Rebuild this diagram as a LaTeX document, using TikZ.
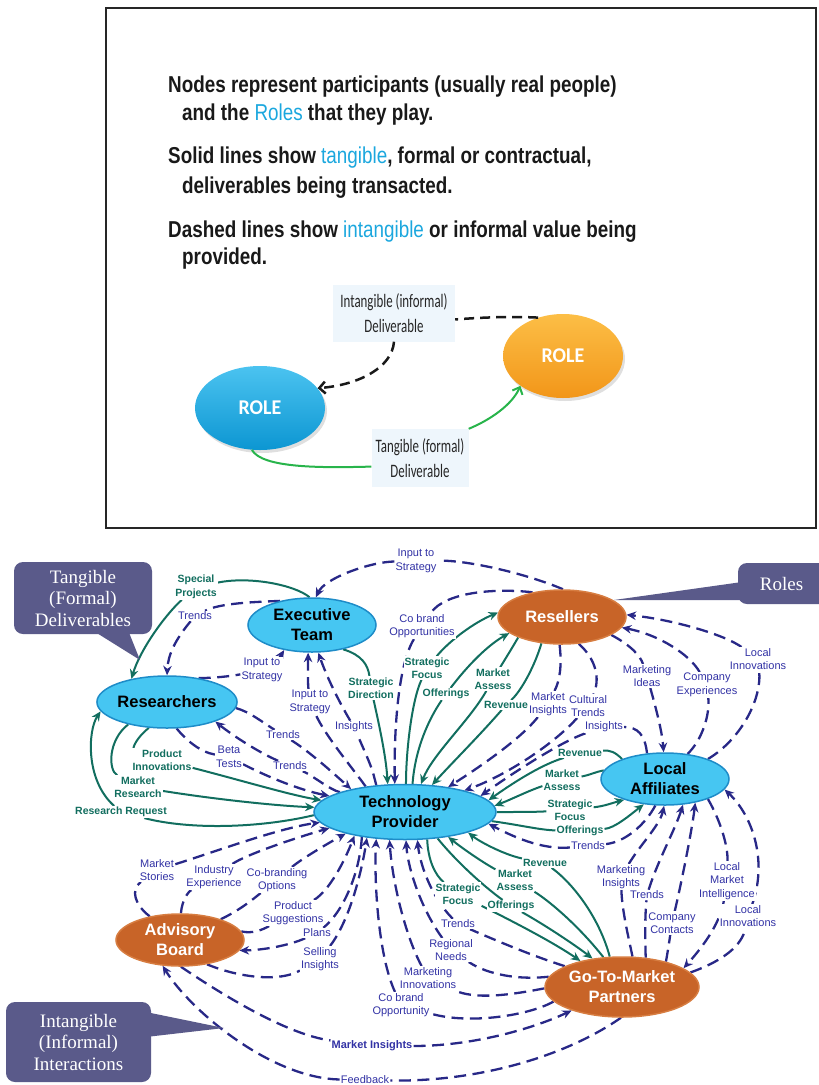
\documentclass[tikz,border=0pt]{standalone}
\usepackage{fontspec}
\setmainfont{Liberation Sans}
\newfontfamily\headfont[FakeStretch=0.82]{Liberation Sans}
\newfontfamily\boxfont[FakeStretch=0.68]{Carlito}
\newfontfamily\rolefont[FakeStretch=0.95]{Carlito}
\newfontfamily\calloutfont{Liberation Serif}
\usetikzlibrary{shapes.geometric,arrows.meta,shadows}
\pgfdeclarelayer{edgelayer}
\pgfsetlayers{edgelayer,main}

\definecolor{navy}{RGB}{40,40,135}
\definecolor{lblue}{RGB}{50,50,165}
\definecolor{vgreen}{RGB}{18,110,95}
\definecolor{nodeblue}{RGB}{70,198,242}
\definecolor{nodeblueedge}{RGB}{30,140,200}
\definecolor{nodeorange}{RGB}{200,100,40}
\definecolor{nodeorangeedge}{RGB}{215,125,65}
\definecolor{callfill}{RGB}{90,90,138}
\definecolor{hl}{RGB}{27,167,222}
\definecolor{legtext}{RGB}{25,25,25}
\definecolor{boxbg}{RGB}{238,246,252}
\definecolor{leggreen}{RGB}{40,180,75}

\begin{document}
\begin{tikzpicture}[x=1pt,y=-1pt,
  dl/.style={draw=navy, line width=2.3pt, dash pattern=on 12pt off 6.5pt},
  dla/.style={dl, -{Stealth[length=9.5pt,width=8.5pt]}},
  gl/.style={draw=vgreen, line width=2pt},
  gla/.style={gl, -{Stealth[length=9.5pt,width=8.5pt]}},
  bl/.style={font=\fontsize{11}{13.5}\selectfont, text=lblue, align=center, inner sep=1pt, fill=white},
  glab/.style={font=\bfseries\fontsize{10.5}{13.5}\selectfont, text=vgreen, align=center, inner sep=1pt, fill=white},
  bnode/.style={ellipse, draw=nodeblueedge, fill=nodeblue, line width=1.5pt, inner sep=0pt,
    font=\bfseries\fontsize{16.5}{20}\selectfont, align=center, text=black},
  onode/.style={bnode, draw=nodeorangeedge, fill=nodeorange, text=white},
  hd/.style={font=\headfont\bfseries\fontsize{23}{27}\selectfont, text=legtext, inner sep=0pt, anchor=base west},
  legbox/.style={fill=boxbg, font=\boxfont\fontsize{19}{25}\selectfont, text=black!85, align=center, inner sep=0pt},
  legrole/.style={ellipse, inner sep=0pt, font=\rolefont\bfseries\fontsize{21}{24}\selectfont, text=white,
    drop shadow={opacity=0.25, shadow xshift=2pt, shadow yshift=-3pt}},
  legd/.style={draw=black!90, line width=2.5pt, dash pattern=on 10pt off 6pt},
  leggl/.style={draw=leggreen, line width=2pt},
  callbox/.style={rectangle, rounded corners=9pt, fill=callfill, text=white,
    font=\calloutfont\fontsize{19}{21.5}\selectfont, align=center, inner sep=0pt}
]
\useasboundingbox (0,0) rectangle (819,1085);

% ---------------- key panel ----------------
\draw[line width=2pt, draw=black!85] (106,8) rectangle (816,528);
\node[hd] (lt1) at (168,92) {Nodes represent participants (usually real people)};
\node[hd] (lt2) at (182,120) {and the \textcolor{hl}{\mdseries Roles} that they play.};
\node[hd] (lt3) at (168,163) {Solid lines show \textcolor{hl}{\mdseries tangible}, formal or contractual,};
\node[hd] (lt4) at (182,193) {deliverables being transacted.};
\node[hd] (lt5) at (168,237) {Dashed lines show \textcolor{hl}{\mdseries intangible} or informal value being};
\node[hd] (lt6) at (182,264) {provided.};

\node[legrole, top color={rgb,255:red,75;green,195;blue,240}, bottom color={rgb,255:red,12;green,150;blue,210},
  minimum width=130pt, minimum height=84pt] (RB) at (260,408) {ROLE};
\node[legrole, top color={rgb,255:red,252;green,190;blue,70}, bottom color={rgb,255:red,242;green,150;blue,25},
  minimum width=120pt, minimum height=84pt] (RO) at (563,356) {ROLE};
\node[legbox, minimum width=122pt, minimum height=57pt] (B1) at (394,313) {Intangible (informal)\\Deliverable};
\node[legbox, minimum width=97pt, minimum height=58pt] (B2) at (420,458) {Tangible (formal)\\Deliverable};

\draw[legd] (RO.123) .. controls (505,316) and (475,318) .. (B1.-6);
\draw[legd, -{Straight Barb[length=6pt,width=12pt]}] (B1.south) .. controls (392,368) and (358,385) .. (RB.19);
\draw[leggl] (RB.259) .. controls (262,468) and (320,468) .. (B2.190);
\draw[leggl, -{Straight Barb[length=6pt,width=11pt]}] (B2.north east) .. controls (490,420) and (512,405) .. (RO.215);

% ---------------- callouts ----------------
\fill[callfill] (92,630) -- (140,660) -- (128,630) -- cycle;
\node[callbox, minimum width=138pt, minimum height=72pt] (cT) at (83,598) {Tangible\\(Formal)\\Deliverables};
\fill[callfill] (742,582) -- (614,600) -- (742,600) -- cycle;
\node[callbox, minimum width=95pt, minimum height=41pt] (cR) at (785.5,583.5) {\hspace*{-8pt}Roles};
\fill[callfill] (146,1012) -- (224,1028) -- (146,1037) -- cycle;
\node[callbox, minimum width=145pt, minimum height=80pt] (cI) at (78.5,1042) {Intangible\\(Informal)\\Interactions};

% ---------------- roles ----------------
\node[bnode, minimum width=128pt, minimum height=54pt] (ET) at (312,625) {Executive\\Team};
\node[onode, minimum width=128pt, minimum height=54pt] (RS) at (562,617) {Resellers};
\node[bnode, minimum width=128pt, minimum height=52pt] (RE) at (167,702) {Researchers};
\node[bnode, minimum width=182pt, minimum height=55pt] (TP) at (405,812) {Technology\\Provider};
\node[bnode, minimum width=128pt, minimum height=52pt] (LA) at (665,779) {Local\\Affiliates};
\node[onode, minimum width=128pt, minimum height=52pt] (AB) at (180,940) {Advisory\\Board};
\node[onode, minimum width=154pt, minimum height=60pt] (GM) at (622,987) {Go-To-Market\\Partners};

% ---------------- deliverable labels ----------------
\node[glab] (L3) at (196,587) {Special\\Projects};
\node[bl] (L4) at (195,616) {Trends};
\node[bl] (L1) at (416,561) {Input to\\Strategy};
\node[bl] (L2) at (422,626) {Co brand\\Opportunities};
\node[bl] (L5) at (262,670) {Input to\\Strategy};
\node[bl] (L6) at (310,702) {Input to\\Strategy};
\node[bl] (L7) at (354,727) {Insights};
\node[glab] (L8) at (371,688) {Strategic\\Direction};
\node[glab] (L9) at (427,668) {Strategic\\Focus};
\node[glab] (L10) at (446,694) {Offerings};
\node[glab] (L11) at (493,679) {Market\\Assess};
\node[glab] (L12) at (506,705) {Revenue};
\node[bl] (L13) at (548,704) {Market\\Insights};
\node[bl] (L14) at (588,706) {Cultural\\Trends};
\node[bl] (L15) at (604,727) {Insights};
\node[bl] (L16) at (647,676) {Marketing\\Ideas};
\node[bl] (L17) at (707,685) {Company\\Experiences};
\node[bl] (L18) at (758,659) {Local\\Innovations};
\node[bl] (L19) at (283,735) {Trends};
\node[bl] (L20) at (290,766) {Trends};
\node[bl] (L21) at (229,757) {Beta\\Tests};
\node[glab] (L22) at (162,760) {Product\\Innovations};
\node[glab] (L23) at (138,787) {Market\\Research};
\node[glab] (L24) at (121,812) {Research Request};
\node[glab] (L25) at (580,753) {Revenue};
\node[glab] (L26) at (562,780) {Market\\Assess};
\node[glab] (L27) at (570,810) {Strategic\\Focus};
\node[glab] (L28) at (580,831) {Offerings};
\node[bl] (L29) at (588,846) {Trends};
\node[bl] (L30) at (157,870) {Market\\Stories};
\node[bl] (L31) at (214,877) {Industry\\Experience};
\node[bl] (L32) at (277,880) {Co-branding\\Options};
\node[bl] (L33) at (293,913) {Product\\Suggestions};
\node[bl] (L34) at (317,933) {Plans};
\node[bl] (L35) at (320,959) {Selling\\Insights};
\node[bl] (L36) at (401,1005) {Co brand\\Opportunity};
\node[bl] (L37) at (428,978) {Marketing\\Innovations};
\node[bl] (L38) at (451,950) {Regional\\Needs};
\node[bl] (L39) at (458,924) {Trends};
\node[glab] (L40) at (458,894) {Strategic\\Focus};
\node[glab] (L41) at (511,906) {Offerings};
\node[glab] (L42) at (515,880) {Market\\Assess};
\node[glab] (L43) at (545,863) {Revenue};
\node[bl] (L44) at (621,877) {Marketing\\Insights};
\node[bl] (L45) at (647,895) {Trends};
\node[bl] (L46) at (672,923) {Company\\Contacts};
\node[bl] (L47) at (727,881) {Local\\Market\\Intelligence};
\node[bl] (L48) at (748,916) {Local\\Innovations};
\node[bl, font=\bfseries\fontsize{11}{13.5}\selectfont] (L49) at (372,1046) {Market Insights};
\node[bl] (L50) at (365,1080) {Feedback};

% ---------------- connectors ----------------
\begin{pgfonlayer}{edgelayer}
% executive team, resellers
\draw[dl] (RS.88) .. controls (530,575) and (470,560) .. (L1);
\draw[dla] (L1) .. controls (370,562) and (325,578) .. (ET.82);
\draw[dl] (RS.140) .. controls (495,588) and (445,592) .. (L2);
\draw[dla] (L2) .. controls (398,665) and (394,730) .. (TP.110);
\draw[gl] (ET.95) .. controls (295,585) and (250,576) .. (L3);
\draw[gla] (L3) .. controls (165,615) and (140,650) .. (RE.147);
\draw[dl] (ET.143) .. controls (255,602) and (220,603) .. (L4);
\draw[dla] (L4) .. controls (175,640) and (168,655) .. (RE.90);
\draw[dl] (RE.37) .. controls (215,678) and (232,676) .. (L5);
\draw[dla] (L5) .. controls (278,660) .. (ET.222);
\draw[dl] (TP.147) .. controls (350,765) and (325,735) .. (L6);
\draw[dla] (L6) .. controls (308,685) .. (ET.262);
\draw[dl] (TP.137) .. controls (372,768) .. (L7);
\draw[dla] (L7) .. controls (338,700) and (326,675) .. (ET.283);
\draw[gl] (ET.322) .. controls (362,655) and (368,665) .. (L8);
\draw[gla] (L8) .. controls (378,720) and (386,755) .. (TP.122);
% technology provider and resellers
\draw[gl] (TP.88) .. controls (406,750) and (412,700) .. (L9);
\draw[gla] (L9) .. controls (450,640) and (475,622) .. (RS.176);
\draw[gl] (TP.75) .. controls (415,750) and (428,720) .. (L10);
\draw[gla] (L10) .. controls (468,665) and (488,645) .. (RS.197);
\draw[gl] (RS.205) .. controls (512,648) .. (L11);
\draw[gla] (L11) .. controls (470,720) and (432,755) .. (TP.60);
\draw[gl] (RS.232) .. controls (535,665) and (522,690) .. (L12);
\draw[gla] (L12) .. controls (480,735) and (450,765) .. (TP.45);
\draw[dl] (RS.265) .. controls (562,665) and (560,680) .. (L13);
\draw[dla] (L13) .. controls (520,740) and (475,770) .. (TP.30);
\draw[dl] (RS.302) .. controls (597,660) and (600,680) .. (L14);
\draw[dla] (L14) .. controls (550,748) and (500,778) .. (TP.20);
\draw[dl] (LA.125) .. controls (645,735) and (638,727) .. (L15);
\draw[dla] (L15) .. controls (560,742) and (510,775) .. (TP.12);
% resellers and local affiliates
\draw[dl] (RS.340) .. controls (630,645) and (640,655) .. (L16);
\draw[dla] (L16) .. controls (655,705) and (662,730) .. (LA.93);
\draw[dl] (LA.48) .. controls (702,740) and (710,715) .. (L17);
\draw[dla] (L17) .. controls (690,655) and (660,635) .. (RS.350);
\draw[dl] (LA.25) .. controls (740,740) and (762,700) .. (L18);
\draw[dla] (L18) .. controls (725,635) and (675,620) .. (RS.2);
% researchers and technology provider
\draw[dl] (RE.355) .. controls (250,712) and (262,722) .. (L19);
\draw[dla] (L19) .. controls (310,752) and (332,772) .. (TP.157);
\draw[dl] (TP.163) .. controls (330,790) and (312,775) .. (L20);
\draw[dla] (L20) .. controls (258,752) and (232,735) .. (RE.338);
\draw[dl] (RE.290) .. controls (186,740) and (200,752) .. (L21);
\draw[dla] (L21) .. controls (270,778) and (300,790) .. (TP.168);
\draw[gl] (RE.235) .. controls (136,738) and (133,748) .. (L22);
\draw[gla] (L22) .. controls (240,780) and (290,795) .. (TP.172);
\draw[gl] (RE.210) .. controls (108,740) and (108,770) .. (L23);
\draw[gla] (L23) .. controls (220,800) and (280,806) .. (TP.177);
\draw[gl] (TP.182) .. controls (260,828) and (190,830) .. (L24);
\draw[gla] (L24) .. controls (85,780) and (88,730) .. (RE.188);
% advisory board and technology provider
\draw[dl] (AB.142) .. controls (135,905) and (130,890) .. (L30);
\draw[dla] (L30) .. controls (220,850) and (280,828) .. (TP.187);
\draw[dl] (AB.88) .. controls (182,900) and (188,892) .. (L31);
\draw[dla] (L31) .. controls (245,855) and (295,838) .. (TP.192);
\draw[dl] (AB.27) .. controls (240,910) and (252,900) .. (L32);
\draw[dla] (L32) .. controls (300,860) and (325,845) .. (TP.200);
\draw[dl] (AB.8) .. controls (252,934) and (262,930) .. (L33);
\draw[dla] (L33) .. controls (330,890) and (345,860) .. (TP.205);
\draw[dl] (TP.210) .. controls (360,870) and (345,910) .. (L34);
\draw[dla] (L34) .. controls (290,945) and (265,950) .. (AB.350);
\draw[dl] (AB.318) .. controls (240,978) and (280,982) .. (L35);
\draw[dla] (L35) .. controls (350,920) and (362,870) .. (TP.214);
% go-to-market partners and technology provider
\draw[dl] (GM.192) .. controls (530,1015) and (470,1025) .. (L36);
\draw[dla] (L36) .. controls (378,955) and (374,880) .. (TP.223);
\draw[dl] (GM.181) .. controls (510,995) and (475,1000) .. (L37);
\draw[dla] (L37) .. controls (405,935) and (392,880) .. (TP.241);
\draw[dl] (GM.172) .. controls (520,980) and (488,975) .. (L38);
\draw[dla] (L38) .. controls (422,910) and (408,870) .. (TP.272);
\draw[dl] (GM.160) .. controls (530,955) and (495,940) .. (L39);
\draw[dla] (L39) .. controls (432,898) and (420,865) .. (TP.294);
\draw[gl] (TP.309) .. controls (428,860) and (435,875) .. (L40);
\draw[gla] (L40) .. controls (500,915) and (550,940) .. (GM.148);
\draw[gl] (TP.321) .. controls (455,860) and (482,885) .. (L41);
\draw[gla] (L41) .. controls (545,925) and (575,945) .. (GM.136);
\draw[gl] (GM.122) .. controls (578,925) and (548,900) .. (L42);
\draw[gla] (L42) .. controls (482,862) and (462,848) .. (TP.330);
\draw[gl] (GM.112) .. controls (600,920) and (575,885) .. (L43);
\draw[gla] (L43) .. controls (505,855) and (480,842) .. (TP.342);
% local affiliates and go-to-market partners
\draw[dl] (GM.71) .. controls (628,935) and (622,910) .. (L44);
\draw[dla] (L44) .. controls (640,845) and (660,825) .. (LA.268);
\draw[dl] (GM.51) .. controls (645,935) and (645,915) .. (L45);
\draw[dla] (L45) .. controls (658,860) and (675,830) .. (LA.305);
\draw[dl] (GM.30) .. controls (668,950) .. (L46);
\draw[dla] (L46) .. controls (682,880) and (692,830) .. (LA.322);
\draw[dl] (LA.335) .. controls (720,820) and (728,845) .. (L47);
\draw[dla] (L47) .. controls (720,925) and (700,950) .. (GM.17);
\draw[dl] (GM.12) .. controls (725,960) and (742,945) .. (L48);
\draw[dla] (L48) .. controls (768,860) and (752,815) .. (LA.350);
% local affiliates and technology provider
\draw[gl] (LA.155) .. controls (615,752) and (610,750) .. (L25);
\draw[gla] (L25) .. controls (540,765) and (510,785) .. (TP.8);
\draw[gl] (LA.172) .. controls (595,772) and (590,775) .. (L26);
\draw[gla] (L26) .. controls (530,790) and (510,800) .. (TP.4);
\draw[gl] (TP.0) .. controls (520,812) and (535,812) .. (L27);
\draw[gla] (L27) .. controls (605,806) and (612,803) .. (LA.207);
\draw[gl] (TP.354) .. controls (520,825) and (540,830) .. (L28);
\draw[gla] (L28) .. controls (615,828) and (630,815) .. (LA.230);
\draw[dl] (LA.250) .. controls (645,825) and (625,842) .. (L29);
\draw[dla] (L29) .. controls (540,850) and (510,835) .. (TP.352);
% advisory board and go-to-market partners
\draw[dl] (AB.272) .. controls (230,1000) and (290,1035) .. (L49);
\draw[dla] (L49) .. controls (470,1046) and (530,1030) .. (GM.205);
\draw[dl] (GM.268) .. controls (560,1060) and (470,1082) .. (L50);
\draw[dla] (L50) .. controls (270,1078) and (190,1010) .. (AB.236);
\end{pgfonlayer}
\end{tikzpicture}
\end{document}
